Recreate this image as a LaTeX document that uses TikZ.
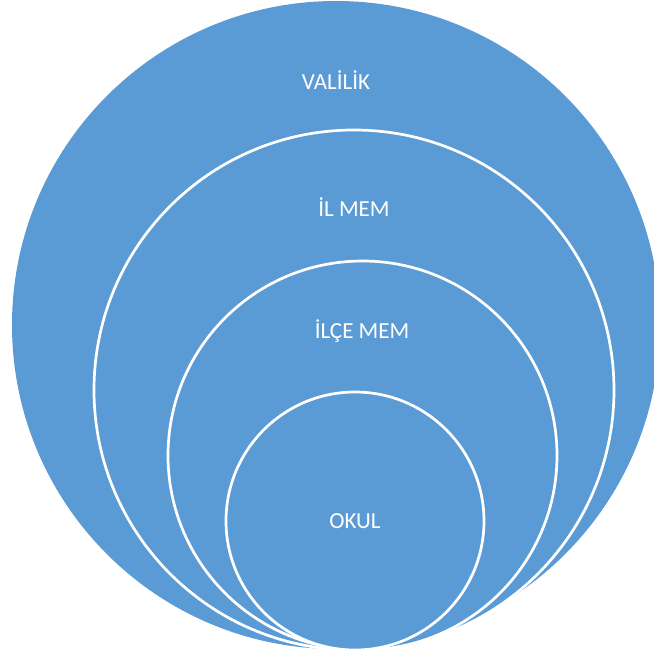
\documentclass[tikz,border=0pt]{standalone}
\usepackage{fontspec}
\setmainfont{Carlito}
\definecolor{ringblue}{HTML}{5B9BD5}
\begin{document}
\begin{tikzpicture}[x=1pt,y=-1pt,
  ring/.style={circle,fill=ringblue,draw=white,line width=2.7pt,inner sep=0pt},
  outerring/.style={circle,fill=ringblue,draw=none,inner sep=0pt},
  lbl/.style={text=white,font=\fontsize{23}{27}\selectfont,inner sep=0pt,anchor=center}]
\useasboundingbox (0,0) rectangle (654,657);
\begin{scope}
\clip (0,0) rectangle (654,657);
\node[outerring,minimum size=648pt] (valilik) at (336,325) {};
\node[ring,minimum size=520pt] (ilmem) at (354,390) {};
\node[ring,minimum size=389pt] (ilcemem) at (362.5,455.5) {};
\node[ring,minimum size=258pt] (okul) at (355,521) {};
\end{scope}
\node[lbl] (t1) at (336,80) {VALİLİK};
\node[lbl] (t2) at (354,207) {İL MEM};
\node[lbl] (t3) at (362,331) {İLÇE MEM};
\node[lbl] (t4) at (355,521) {OKUL};
\end{tikzpicture}
\end{document}
